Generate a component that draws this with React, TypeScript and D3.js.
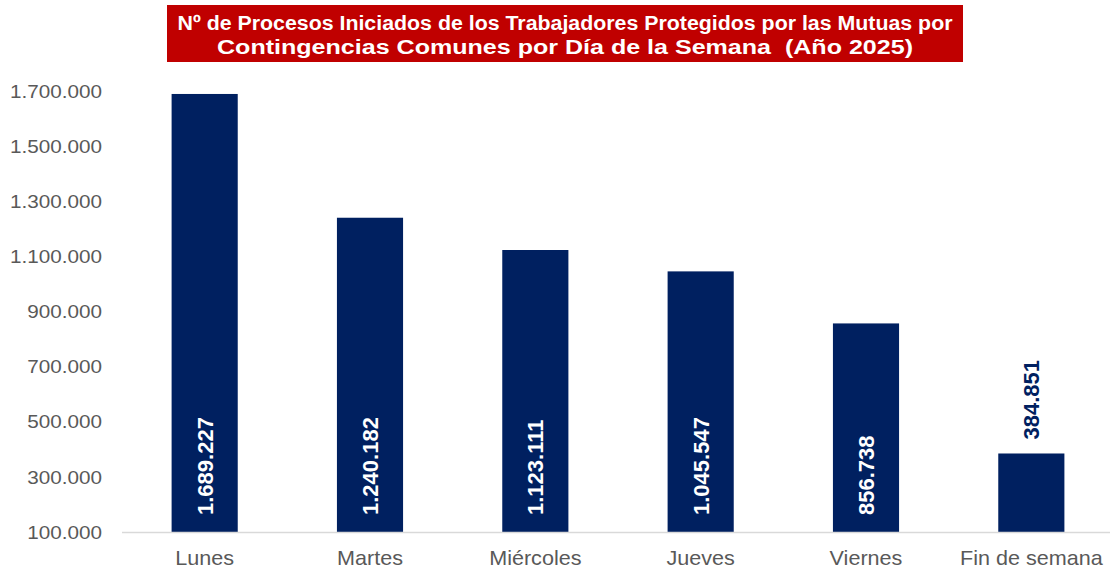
import React from "react";
import * as d3 from "d3";

const categories = ["Lunes", "Martes", "Miércoles", "Jueves", "Viernes", "Fin de semana"];
const values = [1689227, 1240182, 1123111, 1045547, 856738, 384851];
const yTicks = [100000, 300000, 500000, 700000, 900000, 1100000, 1300000, 1500000, 1700000];
const titleLines = [
  "Nº de Procesos Iniciados de los Trabajadores Protegidos por las Mutuas por",
  "Contingencias Comunes por Día de la Semana  (Año 2025)",
];
const titleWidths = [775, 696];

const W = 1110;
const H = 571;
const FONT = "'Liberation Sans', Arial, sans-serif";
const BAR = "#002060";

const locale = d3.formatLocale({ decimal: ",", thousands: ".", grouping: [3], currency: ["", "€"] });
const fmt = locale.format(",.0f");

export default function App() {
  const x = d3.scaleBand<string>().domain(categories).range([122, 1114]).paddingInner(0.6).paddingOuter(0.3);
  const y = d3.scaleLinear().domain([100000, 1700000]).range([532, 91]);
  const y0 = y(100000);
  return (
    <svg width={W} height={H} style={{ position: "absolute", left: 0, top: 0, background: "#fff" }} fontFamily={FONT}>
      <rect x={167} y={5} width={796} height={57} fill="#C00000" />
      {titleLines.map((t, i) => (
        <text
          key={i}
          x={565}
          y={30 + i * 24}
          textAnchor="middle"
          fill="#fff"
          fontWeight="bold"
          fontSize={20}
          textLength={titleWidths[i]}
          lengthAdjust="spacingAndGlyphs"
          style={{ whiteSpace: "pre" }}
        >
          {t}
        </text>
      ))}
      {yTicks.map((t) => (
        <text
          key={t}
          transform={`translate(102,${y(t)}) scale(1.09,1)`}
          dy="0.35em"
          textAnchor="end"
          fill="#595959"
          fontSize={19}
        >
          {fmt(t)}
        </text>
      ))}
      {categories.map((c, i) => {
        const bx = x(c)!;
        const cx = bx + x.bandwidth() / 2;
        const top = y(values[i]);
        const inside = i < categories.length - 1;
        const ly = inside ? y0 - 17 : top - 14;
        return (
          <g key={c}>
            <rect x={bx} y={top} width={x.bandwidth()} height={y0 - top} fill={BAR} />
            <text
              transform={`translate(${cx},${ly}) rotate(-90)`}
              dy="0.36em"
              textAnchor="start"
              fill={inside ? "#fff" : BAR}
              fontWeight="bold"
              fontSize={22}
            >
              {fmt(values[i])}
            </text>
            <text transform={`translate(${cx},565) scale(1.08,1)`} textAnchor="middle" fill="#595959" fontSize={20}>
              {c}
            </text>
          </g>
        );
      })}
      <line x1={122} x2={1110} y1={y0 + 0.5} y2={y0 + 0.5} stroke="#d9d9d9" strokeWidth={1.5} />
    </svg>
  );
}
